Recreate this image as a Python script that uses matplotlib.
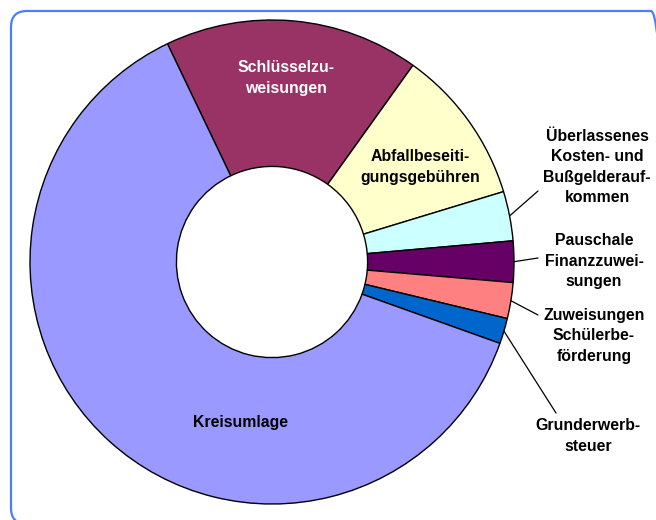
import numpy as np
import matplotlib
matplotlib.use("Agg")
import matplotlib.pyplot as plt
from matplotlib.patches import FancyBboxPatch

# Data (shares in percent, clockwise starting from Schlüsselzuweisungen)
categories = ["Schlüsselzu-\nweisungen", "Abfallbeseiti-\ngungsgebühren",
              "Überlassenes\nKosten- und\nBußgelderauf-\nkommen",
              "Pauschale\nFinanzzuwei-\nsungen",
              "Zuweisungen\nSchülerbe-\nförderung",
              "Grunderwerb-\nsteuer", "Kreisumlage"]
values = [17.0, 10.4, 3.3, 2.75, 2.4, 1.7, 62.4]
colors = ["#993366", "#FFFFCC", "#CCFFFF", "#660066", "#FF8080", "#0066CC", "#9999FF"]

W, H = 656, 520
fig = plt.figure(figsize=(W / 100, H / 100), dpi=100)
ax = fig.add_axes([0, 0, 1, 1])

cx, cy, R = 272, H - 262, 242
start = 115.6
wedges, _ = ax.pie(values, colors=colors, startangle=start, counterclock=False,
                   center=(cx, cy), radius=R, frame=True,
                   wedgeprops=dict(width=R * 0.605, edgecolor="black", linewidth=1.0))

ax.set_xlim(0, W)
ax.set_ylim(0, H)
ax.set_aspect("equal")
ax.axis("off")

# rounded border
border = FancyBboxPatch((11, -4), 656, H - 11 + 4, boxstyle="round,pad=0,rounding_size=16",
                        fill=False, edgecolor="#4D7CFF", linewidth=1.6, transform=ax.transData,
                        clip_on=False)
ax.add_patch(border)

font = dict(family=["Liberation Sans", "DejaVu Sans"], fontweight="bold", fontsize=11.4)
ls = 1.45

# inside labels
inside = {0: (286, H - 78, "white"), 1: (420, H - 167, "black"), 6: (241, H - 422, "black")}
for i, (x, y, c) in inside.items():
    ax.text(x, y, categories[i], ha="center", va="center", color=c, linespacing=ls, **font)

# outside labels with leader lines
outside = {2: ((597, H - 167), (538, H - 191)),
           3: ((594, H - 261), (538, H - 258)),
           4: ((594, H - 336), (538, H - 315)),
           5: ((588, H - 436), (556, H - 413))}
for i, ((tx, ty), (lx, ly)) in outside.items():
    w = wedges[i]
    mid = np.deg2rad((w.theta1 + w.theta2) / 2)
    ex, ey = cx + R * np.cos(mid), cy + R * np.sin(mid)
    ax.annotate("", xy=(ex, ey), xytext=(lx, ly),
                arrowprops=dict(arrowstyle="-", color="black", lw=0.9, shrinkA=0, shrinkB=0))
    ax.text(tx, ty, categories[i], ha="center", va="center", color="black", linespacing=ls, **font)

fig.savefig("out.png", dpi=100, facecolor="white")
